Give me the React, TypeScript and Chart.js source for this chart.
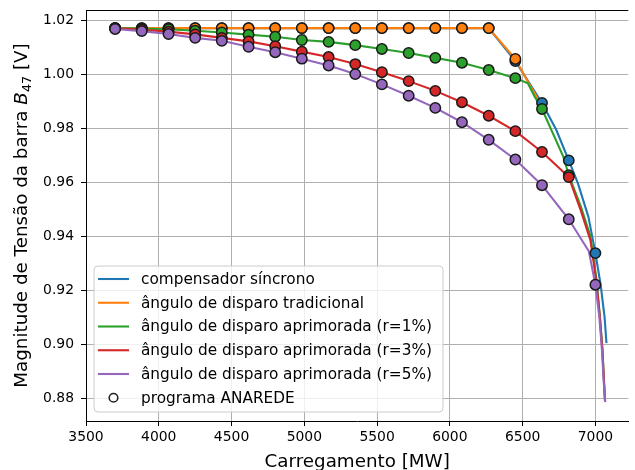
import React, { useEffect, useRef } from 'react';
import { Chart, registerables } from 'chart.js';
Chart.register(...registerables);

// ---------- data ----------
const loadMW = [3700, 3883, 4067, 4250, 4433, 4617, 4800, 4983, 5167, 5350, 5533, 5717, 5900, 6083, 6267, 6450, 6633, 6817, 7000];

// ANAREDE points (markers)
const anaBlue = [1.017, 1.017, 1.017, 1.017, 1.017, 1.017, 1.017, 1.017, 1.017, 1.017, 1.017, 1.017, 1.017, 1.017, 1.017, 1.0048, 0.9893, 0.9681, 0.9338];
const anaOrange = [1.017, 1.017, 1.017, 1.017, 1.017, 1.017, 1.017, 1.017, 1.017, 1.017, 1.017, 1.017, 1.017, 1.017, 1.017, 1.0056];
const anaGreen = [1.017, 1.0168, 1.0166, 1.016, 1.0154, 1.0146, 1.0138, 1.0126, 1.0119, 1.0107, 1.0093, 1.0078, 1.006, 1.0042, 1.0015, 0.9985, 0.9871, 0.9626];
const anaRed = [1.017, 1.0164, 1.0157, 1.0147, 1.0134, 1.0121, 1.0103, 1.0083, 1.0063, 1.0037, 1.0007, 0.9974, 0.9938, 0.9896, 0.9846, 0.9789, 0.9712, 0.9619];
const anaPurple = [1.0167, 1.0159, 1.0148, 1.0134, 1.0123, 1.0101, 1.0081, 1.0057, 1.0032, 1.0, 0.9962, 0.992, 0.9875, 0.9822, 0.9757, 0.9684, 0.9589, 0.9463, 0.9221];

// continuous curves
const curveBlueX = [3700, 6267, 6450, 6633, 6730, 6817, 6880, 6952, 7000, 7036, 7063, 7076];
const curveBlueY = [1.017, 1.017, 1.0048, 0.9893, 0.9795, 0.9681, 0.9596, 0.9472, 0.9338, 0.9221, 0.9101, 0.9005];
const curveOrangeX = [3700, 6267, 6450, 6536, 6633];
const curveOrangeY = [1.017, 1.017, 1.0056, 0.9972, 0.9882];
const curveGreenX = [3700, 3883, 4067, 4250, 4433, 4617, 4800, 4983, 5167, 5350, 5533, 5717, 5900, 6083, 6267, 6450, 6536, 6581, 6633, 6780, 6817, 6900, 6966, 7005, 7030, 7048, 7066];
const curveGreenY = [1.017, 1.0168, 1.0166, 1.016, 1.0154, 1.0146, 1.0138, 1.0126, 1.0119, 1.0107, 1.0093, 1.0078, 1.006, 1.0042, 1.0015, 0.9985, 0.9966, 0.9918, 0.9871, 0.9694, 0.9626, 0.951, 0.94, 0.925, 0.911, 0.8985, 0.879];
const curveRedX = [3700, 3883, 4067, 4250, 4433, 4617, 4800, 4983, 5167, 5350, 5533, 5717, 5900, 6083, 6267, 6450, 6633, 6817, 6900, 6966, 7005, 7030, 7048, 7066];
const curveRedY = [1.017, 1.0164, 1.0157, 1.0147, 1.0134, 1.0121, 1.0103, 1.0083, 1.0063, 1.0037, 1.0007, 0.9974, 0.9938, 0.9896, 0.9846, 0.9789, 0.9712, 0.9619, 0.9495, 0.9385, 0.924, 0.9105, 0.898, 0.879];
const curvePurpleX = [3700, 3883, 4067, 4250, 4433, 4617, 4800, 4983, 5167, 5350, 5533, 5717, 5900, 6083, 6267, 6450, 6633, 6817, 6955, 7000, 7027, 7045, 7058, 7068];
const curvePurpleY = [1.0167, 1.0159, 1.0148, 1.0134, 1.0123, 1.0101, 1.0081, 1.0057, 1.0032, 1.0, 0.9962, 0.992, 0.9875, 0.9822, 0.9757, 0.9684, 0.9589, 0.9463, 0.9345, 0.9221, 0.9102, 0.8979, 0.8855, 0.8787];

const seriesLabels = [
  'compensador síncrono',
  'ângulo de disparo tradicional',
  'ângulo de disparo aprimorada (r=1%)',
  'ângulo de disparo aprimorada (r=3%)',
  'ângulo de disparo aprimorada (r=5%)',
];
const markerLabel = 'programa ANAREDE';
const seriesColors = ['#1f77b4', '#ff7f0e', '#2ca02c', '#d62728', '#9467bd'];

const xTicks = [3500, 4000, 4500, 5000, 5500, 6000, 6500, 7000];
const yTicks = [0.88, 0.9, 0.92, 0.94, 0.96, 0.98, 1.0, 1.02];
const xTitle = 'Carregamento [MW]';
const yTitleParts = ['Magnitude de Tensão da barra ', 'B', '47', ' [V]'];

// ---------- helpers ----------
const pts = (xs: number[], ys: number[]) => ys.map((y, i) => ({ x: xs[i], y }));

const FONT = "'DejaVu Sans', sans-serif";
const LEG = 15.3;
const LAB = 18.3;

const decorPlugin = {
  id: 'decor',
  afterDraw(chart: any) {
    const ctx = chart.ctx as CanvasRenderingContext2D;
    const ca = chart.chartArea;
    ctx.save();
    // top spine
    ctx.strokeStyle = '#000';
    ctx.lineWidth = 1;
    ctx.beginPath();
    ctx.moveTo(ca.left, Math.round(ca.top) + 0.5);
    ctx.lineTo(ca.right, Math.round(ca.top) + 0.5);
    ctx.stroke();

    // legend
    const bx = 94, by = 266, bw = 349, bh = 146, r = 4;
    ctx.beginPath();
    ctx.moveTo(bx + r, by);
    ctx.lineTo(bx + bw - r, by);
    ctx.arcTo(bx + bw, by, bx + bw, by + r, r);
    ctx.lineTo(bx + bw, by + bh - r);
    ctx.arcTo(bx + bw, by + bh, bx + bw - r, by + bh, r);
    ctx.lineTo(bx + r, by + bh);
    ctx.arcTo(bx, by + bh, bx, by + bh - r, r);
    ctx.lineTo(bx, by + r);
    ctx.arcTo(bx, by, bx + r, by, r);
    ctx.closePath();
    ctx.fillStyle = 'rgba(255,255,255,0.8)';
    ctx.fill();
    ctx.strokeStyle = '#cccccc';
    ctx.lineWidth = 1;
    ctx.stroke();

    ctx.font = `${LEG}px ${FONT}`;
    ctx.textBaseline = 'middle';
    ctx.textAlign = 'left';
    const rowY0 = 279, rowStep = 23.75;
    const hx0 = 98, hx1 = 129, tx = 141;
    seriesLabels.forEach((lab, i) => {
      const y = rowY0 + i * rowStep;
      ctx.strokeStyle = seriesColors[i];
      ctx.lineWidth = 2.1;
      ctx.beginPath();
      ctx.moveTo(hx0, y);
      ctx.lineTo(hx1, y);
      ctx.stroke();
      ctx.fillStyle = '#000';
      ctx.fillText(lab, tx, y + 1);
    });
    const my = rowY0 + 5 * rowStep;
    ctx.beginPath();
    ctx.arc((hx0 + hx1) / 2, my, 4.3, 0, Math.PI * 2);
    ctx.fillStyle = '#fff';
    ctx.fill();
    ctx.strokeStyle = '#222';
    ctx.lineWidth = 1.6;
    ctx.stroke();
    ctx.fillStyle = '#000';
    ctx.fillText(markerLabel, tx, my + 1);

    // x title
    ctx.font = `${LAB}px ${FONT}`;
    ctx.textAlign = 'center';
    ctx.textBaseline = 'alphabetic';
    ctx.fillText(xTitle, (ca.left + ca.right) / 2, 467);

    // y title (with italic B and subscript 47)
    const fonts = [`${LAB}px ${FONT}`, `italic ${LAB}px ${FONT}`, `${(LAB * 0.7).toFixed(1)}px ${FONT}`, `${LAB}px ${FONT}`];
    const shifts = [0, 0, 4, 0];
    const widths = yTitleParts.map((t, i) => {
      ctx.font = fonts[i];
      return ctx.measureText(t).width;
    });
    const total = widths.reduce((a, b) => a + b, 0);
    const cy = (ca.top + ca.bottom) / 2;
    ctx.translate(27, cy);
    ctx.rotate(-Math.PI / 2);
    ctx.textAlign = 'left';
    let x = -total / 2;
    yTitleParts.forEach((t, i) => {
      ctx.font = fonts[i];
      ctx.fillText(t, x, shifts[i]);
      x += widths[i];
    });
    ctx.restore();
  },
};

export default function App() {
  const ref = useRef<HTMLCanvasElement>(null);
  useEffect(() => {
    document.body.style.margin = '0';
    const curves = [
      pts(curveBlueX, curveBlueY),
      pts(curveOrangeX, curveOrangeY),
      pts(curveGreenX, curveGreenY),
      pts(curveRedX, curveRedY),
      pts(curvePurpleX, curvePurpleY),
    ];
    const markers = [anaBlue, anaOrange, anaGreen, anaRed, anaPurple].map((ys) => pts(loadMW, ys));
    const datasets: any[] = [];
    curves.forEach((d, i) => {
      datasets.push({
        label: seriesLabels[i],
        data: d,
        borderColor: seriesColors[i],
        backgroundColor: seriesColors[i],
        borderWidth: 2.1,
        pointRadius: 0,
        tension: 0,
        fill: false,
        borderJoinStyle: 'round',
        order: 20 - i,
      });
    });
    markers.forEach((d, i) => {
      datasets.push({
        label: markerLabel,
        data: d,
        showLine: false,
        pointRadius: 5.2,
        pointBorderWidth: 1.5,
        pointBorderColor: '#1a1a1a',
        pointBackgroundColor: seriesColors[i],
        order: 10 - i,
      });
    });

    const chart = new Chart(ref.current as HTMLCanvasElement, {
      type: 'line',
      data: { datasets },
      plugins: [decorPlugin],
      options: {
        responsive: false,
        animation: false,
        events: [],
        layout: { padding: { top: 10, right: 0, left: 0, bottom: 0 } },
        plugins: { legend: { display: false }, tooltip: { enabled: false } },
        scales: {
          x: {
            type: 'linear',
            min: 3500,
            max: 7226,
            afterFit: (s: any) => { s.height = 49; },
            afterBuildTicks: (s: any) => { s.ticks = xTicks.map((v) => ({ value: v })); },
            ticks: {
              color: '#000',
              font: { family: FONT, size: 13.9 },
              padding: 3,
              maxRotation: 0,
              autoSkip: false,
              callback: (v: any) => String(v),
            },
            grid: { color: '#b0b0b0', lineWidth: 1, tickLength: 5, tickColor: '#000', drawTicks: true },
            border: { color: '#000', width: 1 },
          },
          y: {
            type: 'linear',
            min: 0.8717,
            max: 1.0237,
            afterFit: (s: any) => { s.width = 86; },
            afterBuildTicks: (s: any) => { s.ticks = yTicks.map((v) => ({ value: v })); },
            ticks: {
              color: '#000',
              font: { family: FONT, size: 13.9, lineHeight: 0.3 },
              padding: 7,
              autoSkip: false,
              callback: (v: any) => Number(v).toFixed(2),
            },
            grid: { color: '#b0b0b0', lineWidth: 1, tickLength: 5, tickColor: '#000', drawTicks: true },
            border: { color: '#000', width: 1 },
          },
        },
      } as any,
    });
    return () => chart.destroy();
  }, []);
  return (
    <div style={{ width: 635, height: 470 }}>
      <canvas ref={ref} width={635} height={470} style={{ display: 'block' }} />
    </div>
  );
}
